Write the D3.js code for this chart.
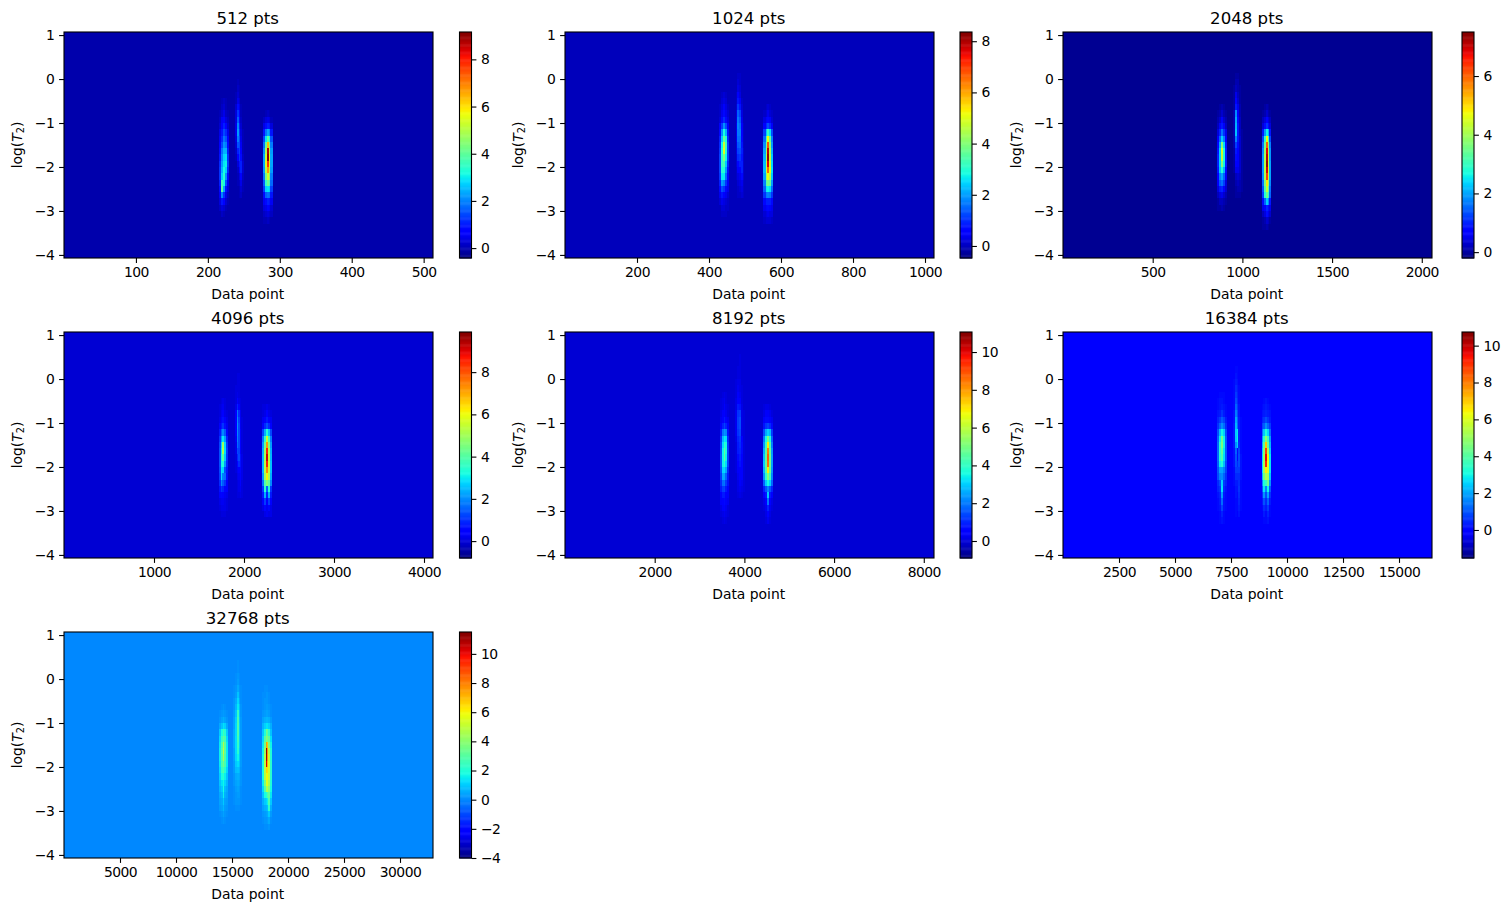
<!DOCTYPE html>
<html>
<head>
<meta charset="utf-8">
<script src="https://cdn.jsdelivr.net/npm/d3@7"></script>
<style>
  html, body { margin: 0; background: #fff; }
  text { font-family: "DejaVu Sans", sans-serif; fill: #000; }
</style>
</head>
<body>
<div id="chart"></div>
<script>
// log(T2) grid, top edge of every row of the maps
const logT2 = [1.00, 0.86, 0.71, 0.57, 0.43, 0.29, 0.14, 0.00, -0.14, -0.29, -0.43, -0.57,
  -0.71, -0.86, -1.00, -1.14, -1.29, -1.43, -1.57, -1.71, -1.86, -2.00, -2.14, -2.29,
  -2.43, -2.57, -2.71, -2.86, -3.00, -3.14, -3.29, -3.43, -3.57, -3.71, -3.86, -4.00, -4.14]

const sizes = [512, 1024, 2048, 4096, 8192, 16384, 32768]
const xMax = [513, 1025, 2057, 4100, 8228, 16473, 32946]
const xTicks = [
  [100, 200, 300, 400, 500],
  [200, 400, 600, 800, 1000],
  [500, 1000, 1500, 2000],
  [1000, 2000, 3000, 4000],
  [2000, 4000, 6000, 8000],
  [2500, 5000, 7500, 10000, 12500, 15000],
  [5000, 10000, 15000, 20000, 25000, 30000]
]
const yTicks = [1, 0, -1, -2, -3, -4]
const colorMin = [-0.42, -0.47, -0.2, -0.8, -0.9, -1.52, -4]
const colorMax = [9.16, 8.36, 7.5, 9.9, 11.06, 10.74, 11.5]
const colorTicks = [
  [0, 2, 4, 6, 8],
  [0, 2, 4, 6, 8],
  [0, 2, 4, 6],
  [0, 2, 4, 6, 8],
  [0, 2, 4, 6, 8, 10],
  [0, 2, 4, 6, 8, 10],
  [-4, -2, 0, 2, 4, 6, 8, 10]
]
const background = [-0.05, -0.02, -0.08, -0.03, -0.03, 0, 0]

// Ridges of every map: column edges (data point), first row in logT2, rows of values
const edges512 = [[216, 218, 221, 224, 227, 229], [238, 240.5, 243, 245, 247.5, 250], [277, 279.5, 282, 284.5, 287, 290]]
const first512 = [10, 7, 12]
const vals512 = [[
  [0, .1, .2, .1, 0], [0, .2, .3, .1, 0], [.1, .3, .5, .2, .1], [.2, .6, .8, .4, .2], [.3, .8, 1.1, .7, .3],
  [.5, 1, 1.5, 1.2, .5], [.6, 1.2, 1.9, 1.6, .7], [.7, 1.5, 2.2, 2, .9], [.9, 1.9, 2.5, 2.5, 1.1], [1, 2.1, 2.8, 2.9, 1.3],
  [1.2, 2.3, 3, 3.1, 1.4], [1.3, 2.5, 3.2, 2.8, 1.2], [1.3, 2.8, 3.4, 2.2, .9], [1.1, 3.7, 3.2, 1.6, .6], [.9, 4, 2.4, 1, .4],
  [.6, 2.1, 1.3, .5, .2], [.4, 1, .7, .3, .1], [.2, .4, .3, .1, 0], [0, .2, .1, 0, 0]
], [
  [0, .1, 0, 0, 0], [0, .2, .1, 0, 0], [.1, .3, .1, 0, 0], [.1, .5, .3, 0, 0], [.3, .9, .5, .1, 0],
  [.4, 1.3, .7, .1, 0], [.4, 1.7, .9, .2, 0], [.5, 2.1, 1.1, .3, 0], [.5, 2.3, 1.3, .4, .1], [.4, 2, 1.5, .5, .1],
  [.3, 1.6, 1.5, .6, .1], [.2, 1.1, 1.4, .7, .1], [.1, .8, 1.3, .9, .2], [0, .4, 1, 1.1, .3], [0, .2, .7, 1.1, .3],
  [0, .1, .4, .8, .2], [0, .1, .2, .5, .1], [0, 0, .1, .3, .1], [0, 0, .1, .2, 0]
], [
  [0, .1, .2, .1, 0], [.2, .4, .5, .4, .1], [.5, .9, 1.1, 1, .4], [1, 1.9, 2.4, 2.1, 1], [1.5, 3, 4, 3.2, 1.6],
  [1.9, 4.2, 6.4, 4.4, 2], [2.2, 5, 8.8, 5.2, 2.3], [2.4, 5.4, 9.1, 5.6, 2.4], [2.4, 5.6, 7.8, 5.6, 2.4], [2.3, 5.2, 6.8, 5.2, 2.3],
  [2, 4.4, 5.4, 4.6, 2], [1.7, 3.6, 4.2, 3.8, 1.8], [1.4, 2.8, 3, 2.8, 1.4], [.9, 1.7, 1.9, 1.8, 1], [.6, .9, 1.1, 1, .6],
  [.4, .5, .7, .6, .3], [.2, .3, .4, .3, .2], [.1, .1, .2, .1, 0]
]]

const edges1024 = [[428, 433, 439, 444, 450, 456], [474, 478, 483, 489, 494, 498], [551, 557, 560, 566, 571, 577]]
const first1024 = [9, 6, 11]
const vals1024 = [[
  [0, .1, .2, .1, 0], [0, .2, .3, .2, 0], [.1, .3, .5, .3, .1], [.1, .4, .7, .4, .2], [.2, .7, 1, .7, .3],
  [.5, 1.2, 1.9, 1.3, .5], [.7, 1.9, 2.9, 2.2, .8], [.9, 2.4, 3.7, 3, 1], [1, 2.8, 4.8, 3.3, 1.2], [1.1, 3, 5, 3.1, 1.2],
  [1.2, 3.1, 4, 2.8, 1.2], [1.2, 3.2, 3.4, 2.4, 1], [1.2, 3, 3, 2, .8], [1.1, 2.7, 2.7, 1.6, .7], [.9, 2, 1.8, 1.1, .5],
  [.7, 1.3, 1.1, .7, .4], [.4, .8, .6, .4, .2], [.2, .4, .3, .2, .1], [0, .2, .2, .1, .1], [0, .1, .1, .1, 0]
], [
  [0, .1, .1, 0, 0], [0, .2, .1, 0, 0], [0, .3, .2, 0, 0], [.1, .5, .3, 0, 0], [.1, .8, .5, .1, 0],
  [.2, 1.1, .8, .2, 0], [.3, 1.5, 1.2, .3, 0], [.3, 1.7, 1.4, .4, 0], [.4, 1.8, 1.6, .5, .1], [.4, 1.7, 1.7, .6, .1],
  [.4, 1.6, 1.6, .7, .1], [.3, 1.4, 1.5, .8, .1], [.3, 1.2, 1.3, .9, .2], [.2, 1, 1.1, .8, .2], [.2, .7, .9, .9, .2],
  [.1, .5, .6, .9, .2], [.1, .3, .4, .7, .2], [0, .2, .3, .4, .1], [0, .1, .2, .3, .1], [0, .1, .1, .2, .1]
], [
  [0, .1, .2, .1, 0], [.1, .2, .4, .2, .1], [.3, .5, .7, .5, .2], [.6, 1, 1.3, 1, .5], [1.2, 2.4, 3.2, 2.6, 1.3],
  [1.6, 3.5, 5.2, 3.7, 1.8], [1.9, 4, 6.8, 4.2, 2], [2.1, 4.4, 7.9, 4.6, 2.2], [2.2, 4.6, 8.2, 4.8, 2.4], [2.3, 4.8, 7.6, 5, 2.5],
  [2.3, 5, 6.6, 5.2, 2.6], [2.1, 4.4, 5.2, 4.6, 2.4], [1.8, 3.6, 3.9, 3.7, 2], [1.5, 2.7, 2.8, 2.6, 1.6], [1.1, 1.7, 1.8, 1.7, 1.1],
  [.7, .9, .9, .9, .7], [.4, .6, .7, .6, .4], [.2, .3, .4, .3, .3], [.1, .2, .2, .2, .1]
]]

const edges2048 = [[859, 870, 881, 892, 903, 914], [948, 959, 970, 981, 992, 1004], [1109, 1121, 1129, 1140, 1151, 1162]]
const first2048 = [11, 6, 11]
const vals2048 = [[
  [0, .1, .2, .1, 0], [.1, .2, .4, .2, .1], [.2, .4, .7, .4, .2], [.3, .7, 1, .7, .3], [.5, 1.1, 1.7, 1.2, .6],
  [.7, 1.6, 2.4, 1.8, .8], [.9, 2.1, 3.8, 2.5, 1], [1, 2.4, 4.6, 2.8, 1.1], [1.1, 2.4, 4.4, 2.8, 1.1], [1.1, 2.4, 3.8, 2.7, 1.1],
  [1, 2.3, 2.9, 2.2, .9], [.8, 1.8, 2.1, 1.6, .7], [.7, 1.5, 1.7, 1.3, .5], [.5, 1, 1.1, .8, .4], [.3, .5, .6, .4, .2],
  [.1, .3, .3, .2, .1], [.1, .1, .2, .1, 0]
], [
  [0, .1, .1, 0, 0], [0, .2, .2, 0, 0], [.1, .3, .2, .1, 0], [.1, .6, .3, .1, 0], [.1, .8, .4, .1, 0],
  [.1, 1, .6, .2, 0], [.2, 1.9, .7, .2, 0], [.2, 2.1, .9, .3, 0], [.2, 2.2, 1, .3, 0], [.2, 2.3, 1, .3, .1],
  [.2, 1.8, 1, .4, .1], [.2, 1.3, .9, .4, .1], [.1, 1, .8, .4, .1], [.1, .9, .8, .4, .1], [.1, .8, .7, .4, .1],
  [.1, .6, .6, .4, .1], [0, .3, .4, .3, .1], [0, .2, .3, .2, .1], [0, .1, .2, .2, .1], [0, .1, .1, .1, 0]
], [
  [0, .1, .2, .1, 0], [.1, .2, .4, .2, .1], [.3, .5, .8, .5, .3], [.5, .9, 1.2, .9, .5], [1, 2, 2.7, 2.2, 1],
  [1.4, 3, 4.8, 3.2, 1.4], [1.7, 3.6, 6.1, 3.8, 1.8], [1.9, 4, 6.9, 4.2, 2], [2, 4.2, 7.2, 4.4, 2], [2, 4.3, 7.4, 4.4, 2.1],
  [2, 4.3, 7, 4.5, 2.1], [1.9, 4.2, 6.4, 4.4, 2.1], [1.7, 3.7, 5, 3.9, 1.9], [1.5, 3.3, 4.4, 3.5, 1.7], [1.3, 2.9, 3.6, 3, 1.6],
  [.9, 1.6, 2.4, 1.9, 1], [.6, .8, 1.1, .9, .6], [.3, .5, .9, .6, .4], [.1, .2, .4, .3, .1], [.1, .1, .2, .1, 0]
]]

const edges4096 = [[1722, 1744, 1761, 1783, 1800, 1822], [1900, 1917, 1933, 1950, 1967, 1989], [2200, 2222, 2244, 2267, 2289, 2311]]
const first4096 = [10, 6, 11]
const vals4096 = [[
  [0, .1, .2, .1, 0], [.1, .2, .3, .1, 0], [.1, .3, .5, .2, .1], [.2, .5, .7, .4, .2], [.4, .8, 1.1, .7, .3],
  [.8, 1.5, 2, 1.5, .6], [1.1, 2.2, 3, 2.2, .9], [1.3, 2.8, 5, 2.8, 1.1], [1.4, 3, 5.2, 2.9, 1.2], [1.4, 3.2, 4.2, 2.7, 1.1],
  [1.4, 3.2, 3.4, 2.2, 1], [1.3, 3, 2.8, 1.4, .8], [1.2, 2.8, 1.9, 1.7, .7], [1, 2, 1.5, 1.1, .5], [.7, 1.1, .9, .6, .4],
  [.4, .6, .5, .3, .2], [.2, .3, .3, .2, .1], [.1, .2, .2, .2, .1], [0, .1, .1, .1, 0]
], [
  [0, .1, .1, 0, 0], [0, .1, .1, 0, 0], [.1, .1, .1, 0, 0], [.1, .2, .1, 0, 0], [.1, .4, .2, .1, 0],
  [.2, .9, .5, .1, 0], [.4, 1.8, 1, .3, 0], [.4, 2, 1.2, .3, .1], [.4, 2.1, 1.3, .3, .1], [.4, 2, 1.3, .4, .1],
  [.3, 1.9, 1.3, .4, .1], [.2, 1.7, 1.3, .5, .1], [.2, 1.3, 1.2, .5, .1], [.1, .9, 1.3, .7, .2], [.1, .6, 1, .7, .2],
  [.1, .3, .5, .6, .2], [0, .2, .3, .5, .2], [0, .1, .2, .4, .1], [0, .1, .2, .3, .1], [0, .1, .1, .2, .1]
], [
  [.1, .1, .2, .1, 0], [.1, .2, .4, .2, .1], [.3, .5, .8, .5, .3], [.6, 1, 1.4, 1, .5], [1.3, 2.4, 3.4, 2.6, 1.3],
  [1.9, 3.6, 5.6, 3.8, 1.9], [2.2, 4.4, 7.2, 4.6, 2.2], [2.4, 5, 8.6, 5.2, 2.4], [2.5, 5.2, 9.2, 5.4, 2.5], [2.5, 5.4, 8.6, 5.6, 2.6],
  [2.5, 5.4, 7.4, 5.6, 2.6], [2.2, 5, 6.2, 5.2, 2.4], [1.8, 4, 4.6, 4.2, 2], [1.2, 3.4, 1.6, 3.4, 1.1], [.8, 2.4, .9, 2.4, .8],
  [.4, 1.2, .5, 1.2, .4], [.2, .6, .3, .6, .2], [0, .2, .3, .2, .2]
]]

const edges8192 = [[3456, 3501, 3535, 3568, 3613, 3657], [3791, 3836, 3880, 3925, 3969, 4014], [4404, 4460, 4505, 4549, 4594, 4638]]
const first8192 = [9, 3, 11]
const vals8192 = [[
  [0, .1, .2, .1, 0], [.1, .2, .3, .1, 0], [.1, .2, .4, .2, .1], [.2, .4, .6, .3, .1], [.3, .6, .9, .5, .3],
  [.5, 1, 1.4, 1, .5], [.9, 2, 2.4, 2.2, .8], [1.2, 2.8, 3.4, 3.2, 1.1], [1.4, 3.2, 4, 3.6, 1.3], [1.5, 3.5, 4.6, 3.7, 1.4],
  [1.6, 3.5, 4.6, 3.5, 1.4], [1.6, 3.5, 3.9, 3.2, 1.4], [1.5, 3.1, 3.2, 2.6, 1.1], [1.3, 2.6, 2.6, 1.8, .9], [1.1, 1.9, 2, 1.3, .8],
  [.9, 1.3, 1.4, .9, .6], [.6, .9, .9, .6, .4], [.4, .6, .7, .4, .3], [.2, .4, .5, .3, .1], [.1, .2, .3, .2, .1], [0, .1, .2, .1, 0]
], [
  [0, 0, .1, 0, 0], [0, 0, .1, 0, 0], [0, .1, .1, 0, 0], [0, .1, .1, 0, 0], [.1, .2, .2, 0, 0],
  [.1, .3, .2, .1, 0], [.1, .4, .3, .1, 0], [.2, .6, .5, .1, 0], [.2, .9, .8, .2, 0], [.3, 1.2, 1.3, .2, .1],
  [.3, 1.3, 1.5, .2, .1], [.3, 1.3, 1.5, .2, .1], [.3, 1.2, 1.4, .2, .1], [.2, 1, 1.2, .5, .1], [.1, .9, 1.1, .7, .1],
  [.1, .9, 1, .7, .1], [.1, .7, .9, .6, .1], [.1, .6, .8, .6, .1], [.1, .4, .6, .6, .1], [0, .3, .5, .5, .1],
  [0, .2, .4, .3, .1], [0, .2, .3, .2, .1], [0, .1, .2, .1, 0]
], [
  [.1, .2, .2, .1, 0], [.2, .4, .4, .3, .1], [.4, .7, .7, .5, .3], [.8, 1.2, 1.4, 1.1, .7], [1.5, 2.6, 3.1, 2.8, 1.3],
  [2.1, 3.6, 5, 3.8, 1.8], [2.4, 4.2, 7, 4.4, 2.1], [2.7, 4.6, 8.4, 4.8, 2.4], [2.9, 4.8, 8.8, 5, 2.5], [3, 4.8, 8.6, 5, 2.5],
  [2.8, 4.6, 7, 4.8, 2.4], [2.4, 4, 5.2, 4.2, 2.2], [1.8, 3, 3.6, 3.1, 1.8], [1, 1.6, 2.2, 1.6, 1], [.5, .9, 3, .9, .5],
  [.2, .5, 2, .5, .2], [.1, .3, 1, .3, .1], [0, .2, .6, .2, 0], [0, .1, .3, .1, 0]
]]

const edges16384 = [[6897, 6986, 7053, 7142, 7232, 7321], [7611, 7678, 7767, 7834, 7901, 7991], [8883, 8950, 9017, 9107, 9196, 9285]]
const first16384 = [9, 5, 10]
const vals16384 = [[
  [0, .1, .1, .1, 0], [.1, .2, .2, .1, 0], [.1, .2, .3, .2, .1], [.2, .3, .6, .3, .1], [.4, .7, 1.1, .8, .3],
  [.6, 1.2, 1.7, 1.3, .5], [1, 2.3, 3, 2.5, .9], [1.2, 2.9, 4.4, 3, 1.1], [1.3, 3.3, 4.6, 3, 1.1], [1.3, 3.3, 4.2, 2.8, 1.1],
  [1.3, 3.3, 3.9, 2.7, 1.1], [1.2, 2.9, 3.2, 2.3, .9], [1, 2, 2, 1.6, .8], [.9, 1.6, 1.7, 1.2, .6], [.5, .9, 2.5, .7, .4],
  [.4, .6, 2.7, .5, .2], [.2, .4, 1.9, .3, .1], [.1, .3, 1.3, .2, .1], [.1, .2, .8, .2, .1], [0, .1, .4, .1, 0], [0, .1, .2, .1, 0]
], [
  [0, .1, .1, 0, 0], [0, .2, .1, 0, 0], [.1, .3, .2, 0, 0], [.1, .5, .3, .1, 0], [.1, .7, .4, .1, 0],
  [.1, .9, .5, .1, 0], [.1, 1.2, .7, .2, 0], [.2, 1.5, .9, .2, 0], [.2, 2, 1.2, .3, .1], [.3, 2.2, 1.3, .3, .1],
  [.3, 2.5, 2.8, .4, .1], [.3, 2.4, 2.9, .4, .1], [.3, 1.8, 2.5, .5, .1], [.2, 1.2, .1, .8, .1], [.2, 1, .1, .9, .2],
  [.2, .9, .5, .9, .2], [.1, .7, .7, .7, .2], [.1, .5, .5, .5, .2], [.1, .3, .3, .5, .1], [0, .2, .2, .6, .1],
  [0, .2, .1, .5, .1], [0, .1, .1, .4, .1], [0, .1, .1, .3, .1], [0, .1, 0, .2, 0]
], [
  [0, .1, .2, .1, 0], [.1, .2, .3, .2, .1], [.2, .3, .4, .3, .2], [.4, .6, .9, .6, .3], [.8, 1.1, 1.7, 1.2, .7],
  [1.4, 2.4, 3.2, 2.6, 1.3], [1.9, 3.4, 4.8, 3.8, 1.9], [2.2, 4.2, 7, 4.4, 2.2], [2.5, 4.8, 8.8, 5.4, 2.5], [2.7, 5, 9.6, 6.4, 2.8],
  [2.8, 5.2, 9.2, 6.2, 2.8], [2.7, 5.2, 6.6, 6, 2.8], [2.3, 4.4, 5.4, 5.2, 2.4], [1.7, 3.2, 3.6, 4.4, 1.8], [1.1, 2.8, 1.6, 3, 1.1],
  [.6, 1.8, .9, 2, .6], [.3, 1, .5, 1.2, .3], [.1, .5, .3, .7, .1], [0, .3, .1, .4, .1], [0, .1, .1, .2, 0]
]]

const edges32768 = [[13797, 13975, 14163, 14288, 14465, 14644], [15092, 15270, 15449, 15583, 15717, 15895], [17637, 17860, 18039, 18128, 18217, 18396, 18574]]
const first32768 = [11, 4, 8]
const vals32768 = [[
  [0, .1, .2, .1, 0], [.1, .2, .3, .2, .1], [.2, .4, .6, .4, .2], [.5, .9, 1.4, 1.1, .5], [1, 1.9, 2.6, 2.1, 1],
  [1.3, 2.5, 3.2, 2.7, 1.3], [1.5, 2.9, 4.6, 3.1, 1.5], [1.6, 3.1, 5, 3.1, 1.5], [1.6, 3, 4.6, 2.9, 1.5], [1.5, 2.9, 3.5, 2.7, 1.5],
  [1.3, 2.5, 2.9, 2.1, 1.2], [1.1, 1.9, 2.2, 1.6, .9], [.9, 1.4, 1.7, 1.2, .7], [.7, 1, 1.8, .8, .5], [.5, .7, 1.6, .6, .4],
  [.4, .5, 1, .4, .3], [.3, .4, .7, .3, .2], [.1, .2, .4, .2, .1], [0, .1, .2, .1, 0]
], [
  [0, 0, .1, 0, 0], [0, 0, .1, 0, 0], [0, .1, .2, .1, 0], [0, .1, .3, .1, 0], [.1, .2, .5, .2, .1],
  [.1, .3, .9, .3, .1], [.2, .5, 1.2, .5, .1], [.2, .7, 1.5, .8, .2], [.3, .9, 2.4, .9, .2], [.4, 1.1, 2.7, 1, .3],
  [.4, 1.2, 2.8, 1.1, .3], [.5, 1.2, 2.8, 1.1, .3], [.5, 1.3, 2.6, 1.1, .3], [.5, 1.3, 2.4, 1.1, .3], [.4, 1.3, 2.2, 1, .3],
  [.4, 1.2, 1.7, 1, .3], [.3, 1, 1.3, .9, .3], [.3, .8, .9, .7, .2], [.2, .5, .6, .5, .2], [.2, .4, .5, .4, .2],
  [.1, .3, .4, .3, .1], [.1, .2, .3, .3, .1], [.1, .2, .2, .2, .1], [0, .1, .1, .1, 0]
], [
  [0, .1, .1, .1, 0, 0], [.1, .1, .2, .2, .1, 0], [.1, .2, .2, .2, .1, 0], [.1, .2, .3, .3, .2, .1], [.2, .3, .4, .4, .3, .1],
  [.4, .6, .7, .7, .6, .3], [.7, 1.1, 1.4, 1.4, 1.1, .6], [1, 2, 3.4, 3.2, 2.2, .9], [1.3, 3, 3.9, 3.7, 3.2, 1.4], [1.5, 3.6, 7.5, 6.8, 3.8, 1.7],
  [1.7, 4.4, 11.2, 7.6, 4.8, 2], [1.8, 4.8, 11, 7.6, 5.2, 2.1], [1.9, 5, 10.2, 7.2, 5.4, 2.2], [1.9, 5, 6.6, 6.4, 5.4, 2.2], [1.9, 4.8, 6, 6, 5.2, 2.2],
  [1.6, 3.8, 5.6, 5.6, 4.6, 2], [1.3, 3, 4.6, 4.8, 4, 1.8], [.9, 1.8, 2.2, 2.8, 3.2, 1.5], [.6, 1, 1.2, 1.6, 2.8, 1], [.4, .6, .7, .9, 2.2, .6],
  [.2, .3, .4, .5, 1, .3], [.1, .2, .2, .3, .5, .1], [0, .1, .1, .1, .2, 0]
]]

const allEdges = [edges512, edges1024, edges2048, edges4096, edges8192, edges16384, edges32768]
const allFirst = [first512, first1024, first2048, first4096, first8192, first16384, first32768]
const allVals = [vals512, vals1024, vals2048, vals4096, vals8192, vals16384, vals32768]

// Layout
const width = 1510
const height = 911
const columnLeft = [64, 565, 1063]
const rowTop = [32, 332, 632]
const colorbarLeft = [459.5, 960, 1462]
const axisW = 369
const axisH = 226
const colorbarW = 12

// matplotlib jet
const jetR = d3.scaleLinear().domain([0, 0.35, 0.66, 0.89, 1]).range([0, 0, 1, 1, 0.5])
const jetG = d3.scaleLinear().domain([0, 0.125, 0.375, 0.64, 0.91, 1]).range([0, 0, 1, 1, 0, 0])
const jetB = d3.scaleLinear().domain([0, 0.11, 0.34, 0.65, 1]).range([0.5, 1, 1, 0, 0])
function jet (t) {
  return d3.rgb(jetR(t) * 255, jetG(t) * 255, jetB(t) * 255).formatRgb()
}

const svg = d3.select('#chart').append('svg')
  .attr('width', width)
  .attr('height', height)

const minus = d => String(d).replace('-', '\u2212')

function styleAxis (g) {
  g.selectAll('.domain').remove()
  g.selectAll('.tick line').attr('stroke', '#000').attr('stroke-width', 1.1)
  g.selectAll('.tick text').attr('fill', '#000').attr('font-size', '13.9px')
    .attr('font-family', '"DejaVu Sans", sans-serif')
    .attr('letter-spacing', '-0.55px')
}

sizes.forEach((size, i) => {
  const left = columnLeft[i % 3]
  const top = rowTop[Math.floor(i / 3)]
  const panel = svg.append('g').attr('transform', `translate(${left},${top})`)

  const x = d3.scaleLinear().domain([0, xMax[i]]).range([0, axisW])
  const y = d3.scaleLinear().domain([1.07, -4.07]).range([0, axisH])
  const t = d3.scaleLinear().domain([colorMin[i], colorMax[i]]).range([0, 1]).clamp(true)
  const color = v => jet(t(v))

  const defs = panel.append('clipPath').attr('id', `clip${i}`)
  defs.append('rect').attr('width', axisW).attr('height', axisH)

  const map = panel.append('g').attr('clip-path', `url(#clip${i})`)
  map.append('rect')
    .attr('width', axisW)
    .attr('height', axisH)
    .attr('fill', color(background[i]))

  // Cells of the three ridges
  allVals[i].forEach((rows, r) => {
    const edges = allEdges[i][r]
    const first = allFirst[i][r]
    rows.forEach((row, k) => {
      map.selectAll(null)
        .data(row)
        .join('rect')
        .attr('x', (d, c) => x(edges[c]))
        .attr('width', (d, c) => x(edges[c + 1]) - x(edges[c]))
        .attr('y', y(logT2[first + k]))
        .attr('height', y(logT2[first + k + 1]) - y(logT2[first + k]))
        .attr('fill', d => color(background[i] + d))
        .attr('shape-rendering', 'crispEdges')
    })
  })

  panel.append('rect')
    .attr('width', axisW)
    .attr('height', axisH)
    .attr('fill', 'none')
    .attr('stroke', '#000')
    .attr('stroke-width', 1.1)

  panel.append('g')
    .attr('transform', `translate(0,${axisH})`)
    .call(d3.axisBottom(x).tickValues(xTicks[i]).tickFormat(d => d).tickSize(4.9).tickPadding(4.6))
    .call(styleAxis)

  panel.append('g')
    .call(d3.axisLeft(y).tickValues(yTicks).tickFormat(minus).tickSize(4.9).tickPadding(4.9))
    .call(styleAxis)

  panel.append('text')
    .attr('x', axisW / 2 - 0.8)
    .attr('y', -8.5)
    .attr('text-anchor', 'middle')
    .attr('font-size', '16.6px')
    .text(`${size} pts`)

  panel.append('text')
    .attr('x', axisW / 2 - 0.8)
    .attr('y', axisH + 41)
    .attr('text-anchor', 'middle')
    .attr('font-size', '13.9px')
    .text('Data point')

  const yLabel = panel.append('text')
    .attr('transform', `translate(-42.5,${axisH / 2}) rotate(-90)`)
    .attr('text-anchor', 'middle')
    .attr('font-size', '13.9px')
  yLabel.append('tspan').text('log(')
  yLabel.append('tspan').attr('font-style', 'italic').text('T')
  yLabel.append('tspan').attr('font-size', '9.7px').attr('dy', 2).text('2')
  yLabel.append('tspan').attr('dy', -2).text(')')

  // Colorbar
  const bar = svg.append('g').attr('transform', `translate(${colorbarLeft[i % 3]},${top})`)
  const c = d3.scaleLinear().domain([colorMin[i], colorMax[i]]).range([axisH, 0])
  bar.selectAll('rect.step')
    .data(d3.range(256))
    .join('rect')
    .attr('class', 'step')
    .attr('width', colorbarW)
    .attr('y', d => axisH * (255 - d) / 256)
    .attr('height', axisH / 256 + 0.5)
    .attr('fill', d => jet((d + 0.5) / 256))
  bar.append('rect')
    .attr('width', colorbarW)
    .attr('height', axisH)
    .attr('fill', 'none')
    .attr('stroke', '#000')
    .attr('stroke-width', 1.1)
  bar.append('g')
    .attr('transform', `translate(${colorbarW},0)`)
    .call(d3.axisRight(c).tickValues(colorTicks[i]).tickFormat(minus).tickSize(4.9).tickPadding(4.5))
    .call(styleAxis)
})
</script>
</body>
</html>
